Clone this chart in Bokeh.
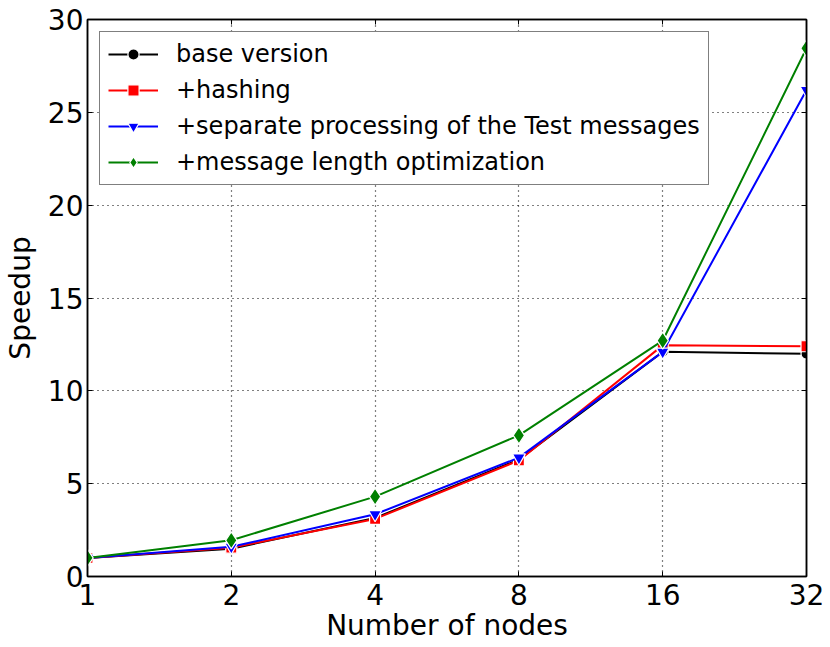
from bokeh.plotting import figure
from bokeh.models import FixedTicker, Legend, LegendItem, LogAxis, LinearAxis, Range1d
from bokeh.embed import file_html
from bokeh.resources import INLINE

nodes = [1, 2, 4, 8, 16, 32]
base_version = [1.0, 1.5, 3.15, 6.3, 12.1, 12.0]
hashing = [1.0, 1.55, 3.1, 6.25, 12.45, 12.4]
separate_test = [1.0, 1.6, 3.35, 6.4, 12.1, 26.2]
msg_length_opt = [1.0, 1.95, 4.3, 7.6, 12.7, 28.45]
y_ticks = [0, 5, 10, 15, 20, 25, 30]

series = [
    ("base version", base_version, "black", "circle", 11),
    ("+hashing", hashing, "red", "square", 11),
    ("+separate processing of the Test messages", separate_test, "blue", "inverted_triangle", 13),
    ("+message length optimization", msg_length_opt, "green", "diamond", 17),
]

FONT = "DejaVu Sans"

p = figure(frame_width=719, frame_height=557, x_axis_type="log", output_backend="svg",
           toolbar_location=None, x_range=Range1d(1, 32), y_range=Range1d(0, 30),
           min_border_left=79, min_border_right=24, min_border_top=19, min_border_bottom=55)

p.outline_line_color = "black"
p.outline_line_width = 1.5
p.background_fill_color = "white"
p.border_fill_color = "white"

p.xaxis.ticker = FixedTicker(ticks=nodes)
p.xaxis.major_label_overrides = {n: str(n) for n in nodes}
p.yaxis.ticker = FixedTicker(ticks=y_ticks)

for ax in [p.xaxis[0], p.yaxis[0]]:
    ax.axis_line_color = "black"
    ax.axis_line_width = 1.5
    ax.major_tick_in = 5
    ax.major_tick_out = 0
    ax.minor_tick_in = 0
    ax.minor_tick_out = 0
    ax.major_label_text_font = FONT
    ax.major_label_text_font_size = "28px"
    ax.major_label_text_color = "black"
    ax.axis_label_text_font = FONT
    ax.axis_label_text_font_size = "28px"
    ax.axis_label_text_font_style = "normal"
    ax.axis_label_text_color = "black"
    ax.major_tick_line_color = "black"

p.xaxis.axis_label = "Number of nodes"
p.yaxis.axis_label = "Speedup"
p.xaxis.major_label_standoff = 7
p.xaxis.axis_label_standoff = 1
p.yaxis.major_label_standoff = 4
p.yaxis.axis_label_standoff = 8

top = LogAxis(ticker=FixedTicker(ticks=nodes), major_label_text_font_size="0px",
              major_label_standoff=0, axis_label_standoff=0,
              major_tick_in=5, major_tick_out=0, minor_tick_in=0, minor_tick_out=0,
              axis_line_color="black", axis_line_width=1.5)
right = LinearAxis(ticker=FixedTicker(ticks=y_ticks), major_label_text_font_size="0px",
                   major_label_standoff=0, axis_label_standoff=0,
                   major_tick_in=5, major_tick_out=0, minor_tick_in=0, minor_tick_out=0,
                   axis_line_color="black", axis_line_width=1.5)
p.add_layout(top, "above")
p.add_layout(right, "right")

p.grid.grid_line_color = "black"
p.grid.grid_line_dash = "1 4"
p.grid.grid_line_width = 1.2

items = []
for label, ys, color, marker, size in series:
    ln = p.line(nodes, ys, line_color=color, line_width=2)
    sc = p.scatter(nodes, ys, marker=marker, size=size, fill_color=color,
                   line_color="white", line_width=1.2)
    items.append(LegendItem(label=label, renderers=[ln, sc]))

legend = Legend(items=items, location="top_left")
legend.label_text_font = FONT
legend.label_text_font_size = "24px"
legend.label_text_color = "black"
legend.border_line_color = "black"
legend.border_line_width = 1.5
legend.glyph_width = 50
legend.glyph_height = 28
legend.label_height = 28
legend.spacing = 8
legend.padding = 8
legend.margin = 12
legend.label_standoff = 18
legend.background_fill_alpha = 1
p.add_layout(legend)

open("out.html", "w").write(file_html(p, INLINE))
